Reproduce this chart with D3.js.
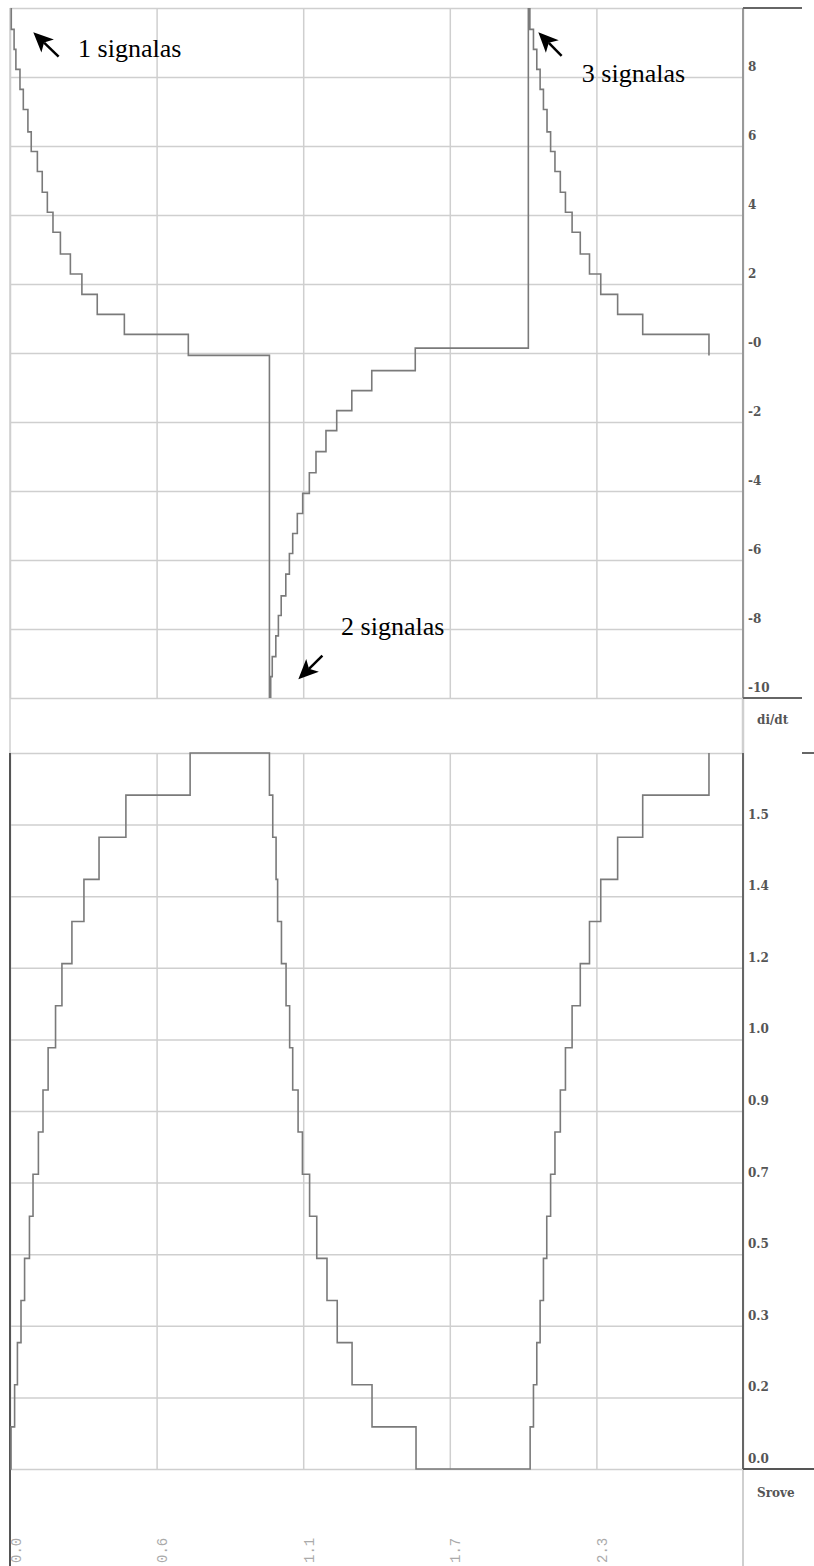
<!DOCTYPE html>
<html>
<head>
<meta charset="utf-8">
<script src="https://cdn.jsdelivr.net/npm/d3@7"></script>
<style>
  body { margin: 0; background: #fff; }
  svg { display: block; }
  .grid line { stroke: #cfcfcf; stroke-width: 1.5; }
  .grid path { display: none; }
  .trace { fill: none; stroke: #7a7a7a; stroke-width: 1.6; }
  .ylab text { font-family: "DejaVu Serif", serif; font-weight: bold; font-size: 12px; fill: #555; }
  .ylab path, .ylab line, .xlab path, .xlab line { display: none; }
  .xlab text { font-family: "Liberation Mono", monospace; font-size: 14px; fill: #aaa; }
  .unit { font-family: "DejaVu Serif", serif; font-weight: bold; font-size: 12px; fill: #555; }
  .note { font-family: "Liberation Serif", "Times New Roman", serif; font-size: 26px; fill: #000; }
</style>
</head>
<body>
<svg id="chart" width="814" height="1566"></svg>
<script>
// --- DATA ---
const xTicks = [0, 0.573, 1.146, 1.719, 2.292];
const xTickLabels = ["0.0", "0.6", "1.1", "1.7", "2.3"];

const didtTicks = [8, 6, 4, 2, 0, -2, -4, -6, -8, -10];
const didtTickLabels = ["8", "6", "4", "2", "-0", "-2", "-4", "-6", "-8", "-10"];

const sroveTicks = [1.53, 1.36, 1.19, 1.02, 0.85, 0.68, 0.51, 0.34, 0.17, 0];
const sroveTickLabels = ["1.5", "1.4", "1.2", "1.0", "0.9", "0.7", "0.5", "0.3", "0.2", "0.0"];

// di/dt staircase: time where each step starts, and its level
const didtT = [
  0, 0.005, 0.016, 0.023, 0.039, 0.052, 0.070, 0.083, 0.107, 0.126, 0.146, 0.168, 0.197, 0.236, 0.281, 0.341, 0.447, 0.697,
  1.014, 1.019, 1.025, 1.039, 1.049, 1.060, 1.078, 1.092, 1.105, 1.123, 1.144, 1.170, 1.196, 1.235, 1.277, 1.336, 1.414, 1.584,
  2.026, 2.032, 2.046, 2.059, 2.072, 2.085, 2.099, 2.113, 2.130, 2.151, 2.171, 2.197, 2.229, 2.265, 2.309, 2.375, 2.473, 2.732
];
const didtV = [
  10.6, 9.38, 8.80, 8.22, 7.64, 7.06, 6.41, 5.84, 5.26, 4.66, 4.08, 3.50, 2.87, 2.29, 1.70, 1.12, 0.54, -0.07,
  -10.6, -9.38, -8.80, -8.20, -7.61, -7.04, -6.41, -5.81, -5.23, -4.65, -4.07, -3.47, -2.86, -2.25, -1.67, -1.09, -0.51, 0.14,
  10.6, 9.38, 8.80, 8.22, 7.64, 7.06, 6.41, 5.84, 5.26, 4.66, 4.08, 3.50, 2.87, 2.29, 1.70, 1.12, 0.54, -0.07
];

// Srove staircase
const sroveT = [
  0, 0.004, 0.018, 0.029, 0.043, 0.057, 0.076, 0.090, 0.111, 0.129, 0.149, 0.178, 0.203, 0.242, 0.289, 0.348, 0.453, 0.704,
  1.014, 1.027, 1.040, 1.046, 1.061, 1.079, 1.093, 1.105, 1.126, 1.143, 1.171, 1.199, 1.239, 1.279, 1.337, 1.415, 1.587,
  2.033, 2.046, 2.059, 2.072, 2.085, 2.098, 2.113, 2.130, 2.151, 2.171, 2.197, 2.229, 2.265, 2.309, 2.375, 2.473, 2.732
];
const sroveV = [
  0, 0.1, 0.2, 0.3, 0.4, 0.5, 0.6, 0.7, 0.8, 0.9, 1.0, 1.1, 1.2, 1.3, 1.4, 1.5, 1.6, 1.7,
  1.6, 1.5, 1.4, 1.3, 1.2, 1.1, 1.0, 0.9, 0.8, 0.7, 0.6, 0.5, 0.4, 0.3, 0.2, 0.1, 0,
  0.1, 0.2, 0.3, 0.4, 0.5, 0.6, 0.7, 0.8, 0.9, 1.0, 1.1, 1.2, 1.3, 1.4, 1.5, 1.6, 1.7
];

// annotations: arrow tip / tail and label anchor, in data units of the di/dt panel
const notes = [
  { text: "1 signalas", tip: [0.091, 9.30], tail: [0.190, 8.59], at: [0.266, 8.57] },
  { text: "3 signalas", tip: [2.065, 9.30], tail: [2.156, 8.61], at: [2.235, 7.86] },
  { text: "2 signalas", tip: [1.127, -9.46], tail: [1.221, -8.77], at: [1.294, -8.17] }
];

// --- LAYOUT ---
const left = 10, right = 743;
const topPanel = { y0: 8, y1: 698 };
const botPanel = { y0: 753, y1: 1469 };

const svg = d3.select("#chart");

const x = d3.scaleLinear().domain([0, 2.865]).range([left, right]);
const yTop = d3.scaleLinear().domain([-10, 10]).range([topPanel.y1, topPanel.y0]);
const yBot = d3.scaleLinear().domain([0, 1.7]).range([botPanel.y1, botPanel.y0]);

// --- GRID ---
function drawGrid(y, values, p) {
    svg.append("g").attr("class", "grid")
        .attr("transform", `translate(${left},0)`)
        .call(d3.axisLeft(y).tickValues(values).tickSize(-(right - left)).tickFormat(""));
    svg.append("g").attr("class", "grid")
        .attr("transform", `translate(0,${p.y1})`)
        .call(d3.axisBottom(x).tickValues(xTicks.concat([2.865])).tickSize(-(p.y1 - p.y0)).tickFormat(""));
}
drawGrid(yTop, d3.range(-10, 10.01, 2), topPanel);
drawGrid(yBot, d3.range(0, 11).map(i => i * 0.17), botPanel);

// --- FRAME LINES ---
const frame = [
    [left, 8, left, 753, "#cfcfcf", 1.5],
    [right, 8, right, 698, "#999", 2],
    [right, 698, right, 753, "#cfcfcf", 2.5],
    [right, 753, right, 1469, "#666", 2],
    [right, 1469, right, 1566, "#cfcfcf", 2],
    [left, 753, left, 1566, "#555", 2],
    [right, 8, 802, 8, "#666", 2],
    [right, 698, 802, 698, "#666", 2],
    [802, 753, 814, 753, "#666", 2],
    [right, 1469, 814, 1469, "#555", 2]
];
svg.append("g").selectAll("line").data(frame).join("line")
    .attr("x1", d => d[0]).attr("y1", d => d[1])
    .attr("x2", d => d[2]).attr("y2", d => d[3])
    .attr("stroke", d => d[4]).attr("stroke-width", d => d[5]);

// --- CLIPS ---
const defs = svg.append("defs");
defs.append("clipPath").attr("id", "clip-top").append("rect")
    .attr("x", left).attr("y", topPanel.y0).attr("width", right - left).attr("height", topPanel.y1 - topPanel.y0);
defs.append("clipPath").attr("id", "clip-bot").append("rect")
    .attr("x", left).attr("y", botPanel.y0 - 1).attr("width", right - left).attr("height", botPanel.y1 - botPanel.y0 + 2);

// --- TRACES ---
const didt = didtT.map((t, i) => [t, didtV[i]]);
const srove = sroveT.map((t, i) => [t, sroveV[i]]);

svg.append("path").attr("class", "trace").attr("clip-path", "url(#clip-top)")
    .attr("d", d3.line().curve(d3.curveStepAfter).x(d => x(d[0])).y(d => yTop(d[1]))(didt));
svg.append("path").attr("class", "trace").attr("clip-path", "url(#clip-bot)")
    .attr("d", d3.line().curve(d3.curveStepAfter).x(d => x(d[0])).y(d => yBot(d[1]))(srove));

// --- Y LABELS (right side, sitting just above each grid line) ---
function drawYLabels(y, ticks, labels) {
    const g = svg.append("g").attr("class", "ylab")
        .attr("transform", `translate(${right},0)`)
        .call(d3.axisRight(y).tickValues(ticks).tickSize(0).tickPadding(5).tickFormat((d, i) => labels[i]));
    g.selectAll("text").attr("dy", "-0.55em");
}
drawYLabels(yTop, didtTicks, didtTickLabels);
drawYLabels(yBot, sroveTicks, sroveTickLabels);

svg.append("text").attr("class", "unit").attr("x", 757).attr("y", 724).text("di/dt");
svg.append("text").attr("class", "unit").attr("x", 757).attr("y", 1497).text("Srove");

// --- X LABELS (rotated) ---
const xg = svg.append("g").attr("class", "xlab")
    .attr("transform", `translate(0,${botPanel.y1})`)
    .call(d3.axisBottom(x).tickValues(xTicks).tickFormat((d, i) => xTickLabels[i]));
xg.selectAll("text")
    .attr("y", null).attr("dy", null)
    .attr("text-anchor", "start")
    .attr("transform", "translate(10,94) rotate(-90)");

// --- ANNOTATIONS ---
function arrowPath(tip, tail) {
    const [x1, y1] = [x(tip[0]), yTop(tip[1])];
    const [x2, y2] = [x(tail[0]), yTop(tail[1])];
    const len = Math.hypot(x2 - x1, y2 - y1);
    const ux = (x2 - x1) / len, uy = (y2 - y1) / len;
    const hl = 20, hw = 9, notch = 15;
    const bx = x1 + ux * hl, by = y1 + uy * hl;
    return {
        head: `M${x1},${y1}L${bx - uy * hw},${by + ux * hw}L${x1 + ux * notch},${y1 + uy * notch}L${bx + uy * hw},${by - ux * hw}Z`,
        shaft: [x1 + ux * notch, y1 + uy * notch, x2, y2]
    };
}
notes.forEach(n => {
    const a = arrowPath(n.tip, n.tail);
    svg.append("line")
        .attr("x1", a.shaft[0]).attr("y1", a.shaft[1]).attr("x2", a.shaft[2]).attr("y2", a.shaft[3])
        .attr("stroke", "#000").attr("stroke-width", 2.5);
    svg.append("path").attr("d", a.head).attr("fill", "#000");
    svg.append("text").attr("class", "note")
        .attr("x", x(n.at[0])).attr("y", yTop(n.at[1])).text(n.text);
});
</script>
</body>
</html>
